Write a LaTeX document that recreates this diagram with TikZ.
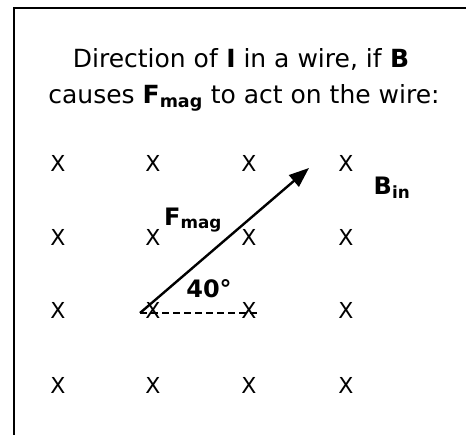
\documentclass[tikz,border=0pt]{standalone}
\usepackage{fontspec}
\setmainfont{DejaVu Sans}
\usetikzlibrary{arrows.meta}
\begin{document}
\begin{tikzpicture}[x=1pt,y=-1pt,
  txt/.style={inner sep=0pt,font=\fontsize{25}{30}\selectfont},
  xmark/.style={inner sep=0pt,font=\fontsize{22}{26}\selectfont},
  lbl/.style={inner sep=0pt,font=\fontsize{24}{28}\selectfont\bfseries},
  frame/.style={line width=2pt},
  force/.style={line width=2.4pt,-{Triangle[length=20pt,width=15pt]}},
  ref/.style={line width=1.2pt,dash pattern=on 7pt off 4pt}]
\useasboundingbox (0,0) rectangle (466,435);
\draw[frame] (14,435) -- (14,8) -- (466,8);
\node[txt,anchor=base] (t1) at (241,68) {Direction of \textbf{I} in a wire, if \textbf{B}};
\node[txt,anchor=base] (t2) at (244,104) {causes \textbf{F\textsubscript{mag}} to act on the wire:};
\foreach \r/\y in {1/163,2/237,3/310,4/385}{
  \foreach \c/\x in {1/58,2/153,3/249,4/346}{
    \node[xmark] (x\r\c) at (\x,\y) {X};
  }
}
\coordinate (tail) at (140,313);
\coordinate (head) at (309,168);
\coordinate (dend) at (257,313);
\draw[ref] (tail) -- (dend);
\draw[force] (tail) -- (head);
\node[lbl] (fmag) at (193,220) {F\textsubscript{mag}};
\node[lbl] (bin) at (392,188) {B\textsubscript{in}};
\node[lbl] (ang) at (209,289) {40°};
\end{tikzpicture}
\end{document}
